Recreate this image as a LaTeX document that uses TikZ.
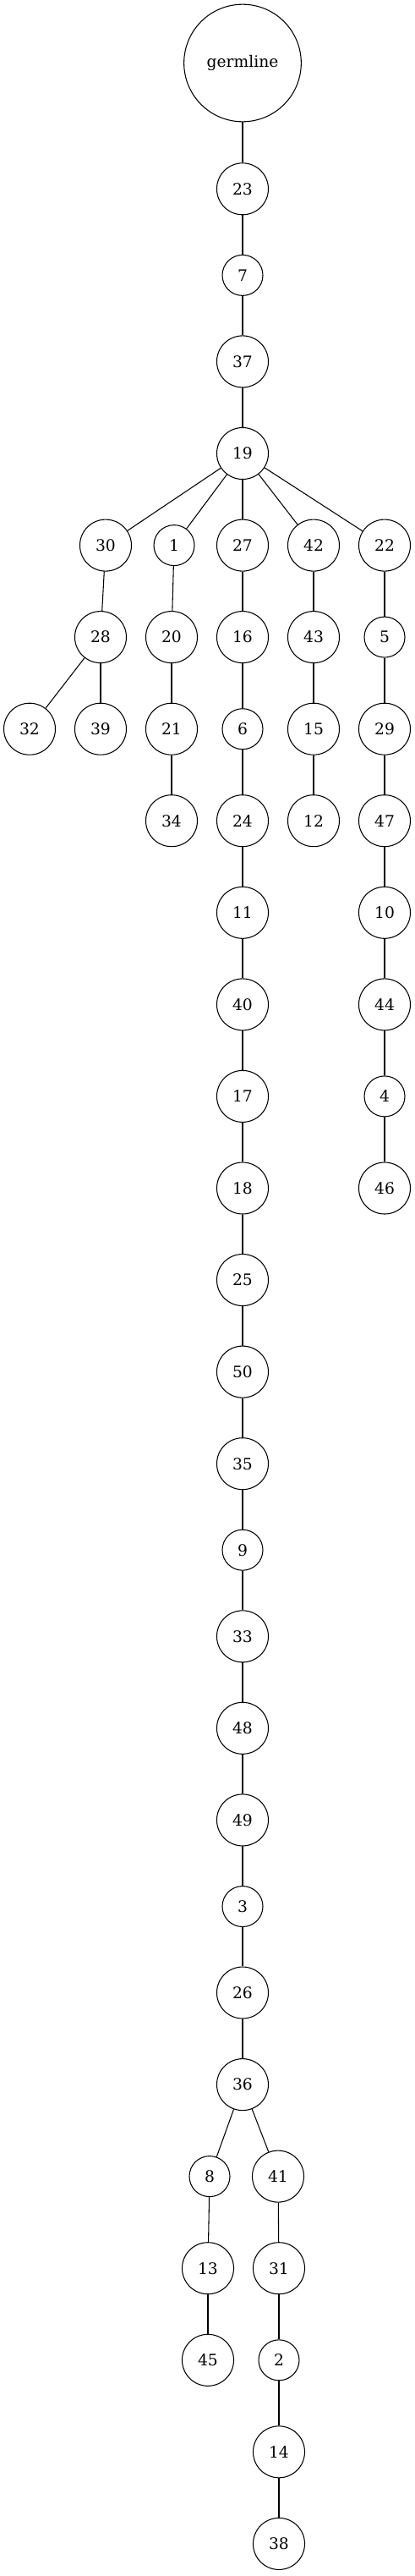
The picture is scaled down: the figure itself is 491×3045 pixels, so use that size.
\documentclass[tikz,border=0pt]{standalone}
\usepackage{fontspec}
\setmainfont{DejaVu Serif}

\begin{document}
\begin{tikzpicture}[x=0.75pt,y=-0.75pt,
vtx/.style={draw,circle,line width=0.8pt,minimum size=45.75pt,inner sep=0,font=\fontsize{14}{16}\selectfont},
svtx/.style={vtx,minimum size=36pt},
germ/.style={vtx,minimum size=104pt},
edge/.style={line width=0.8pt}]
	\useasboundingbox (0,0) rectangle (491,3045);
	% trunk
	\node[germ] at (287,74.5) (g) {germline};
	\node[vtx] at (287,223.3) (v23) {23};
	\node[svtx] at (287,325.4) (v7) {7};
	\node[vtx] at (287,427.4) (v37) {37};
	\node[vtx] at (287,536) (v19) {19};

	% rank 5
	\node[vtx] at (125,644.6) (v30) {30};
	\node[svtx] at (206,644.6) (v1) {1};
	\node[vtx] at (287,644.6) (v27) {27};
	\node[vtx] at (371,644.6) (v42) {42};
	\node[vtx] at (455,644.6) (v22) {22};

	% branch 30
	\node[vtx] at (119,753.1) (v28) {28};
	\node[vtx] at (35,861.7) (v32) {32};
	\node[vtx] at (119,861.7) (v39) {39};
	% branch 1
	\node[vtx] at (203,753.1) (v20) {20};
	\node[vtx] at (203,861.7) (v21) {21};
	\node[vtx] at (203,970.2) (v34) {34};
	% branch 42
	\node[vtx] at (371,753.1) (v43) {43};
	\node[vtx] at (371,861.7) (v15) {15};
	\node[vtx] at (371,970.2) (v12) {12};
	% branch 22
	\node[svtx] at (455,753.1) (v5) {5};
	\node[vtx] at (455,861.7) (v29) {29};
	\node[vtx] at (455,970.2) (v47) {47};
	\node[vtx] at (455,1078.8) (v10) {10};
	\node[vtx] at (455,1187.4) (v44) {44};
	\node[svtx] at (455,1295.9) (v4) {4};
	\node[vtx] at (455,1404.5) (v46) {46};

	% branch 27
	\node[vtx] at (287,753.1) (v16) {16};
	\node[svtx] at (287,861.7) (v6) {6};
	\node[vtx] at (287,970.2) (v24) {24};
	\node[vtx] at (287,1078.8) (v11) {11};
	\node[vtx] at (287,1187.4) (v40) {40};
	\node[vtx] at (287,1295.9) (v17) {17};
	\node[vtx] at (287,1404.5) (v18) {18};
	\node[vtx] at (287,1513) (v25) {25};
	\node[vtx] at (287,1621.6) (v50) {50};
	\node[vtx] at (287,1730.2) (v35) {35};
	\node[svtx] at (287,1832.2) (v9) {9};
	\node[vtx] at (287,1934.3) (v33) {33};
	\node[vtx] at (287,2042.8) (v48) {48};
	\node[vtx] at (287,2151.4) (v49) {49};
	\node[svtx] at (287,2253.5) (v3) {3};
	\node[vtx] at (287,2355.5) (v26) {26};
	\node[vtx] at (287,2464.1) (v36) {36};

	% branch 36
	\node[svtx] at (248,2572.6) (v8) {8};
	\node[vtx] at (246,2681.2) (v13) {13};
	\node[vtx] at (246,2789.8) (v45) {45};
	\node[vtx] at (329,2572.6) (v41) {41};
	\node[vtx] at (330,2681.2) (v31) {31};
	\node[svtx] at (330,2789.8) (v2) {2};
	\node[vtx] at (330,2898.3) (v14) {14};
	\node[vtx] at (330,3006.9) (v38) {38};

	\foreach \a/\b in {g/v23,v23/v7,v7/v37,v37/v19,
		v19/v30,v19/v1,v19/v27,v19/v42,v19/v22,
		v30/v28,v28/v32,v28/v39,v1/v20,v20/v21,v21/v34,
		v42/v43,v43/v15,v15/v12,
		v22/v5,v5/v29,v29/v47,v47/v10,v10/v44,v44/v4,v4/v46,
		v27/v16,v16/v6,v6/v24,v24/v11,v11/v40,v40/v17,v17/v18,v18/v25,
		v25/v50,v50/v35,v35/v9,v9/v33,v33/v48,v48/v49,v49/v3,v3/v26,v26/v36,
		v36/v8,v8/v13,v13/v45,v36/v41,v41/v31,v31/v2,v2/v14,v14/v38} {
		\draw[edge] (\a) -- (\b);
	}
\end{tikzpicture}
\end{document}
